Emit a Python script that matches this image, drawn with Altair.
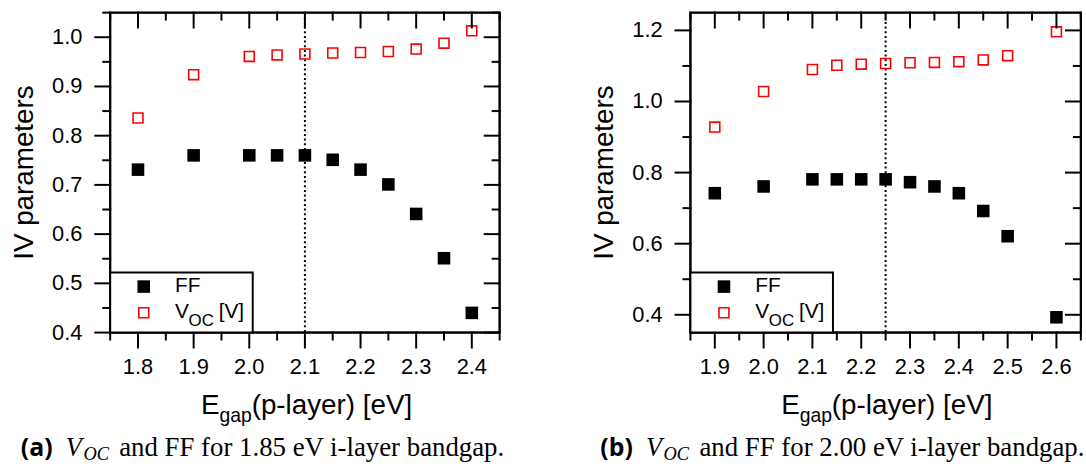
import altair as alt
import pandas as pd

# ---------------- data ----------------
# Panel (a): 1.85 eV i-layer
e_a = [1.8, 1.9, 2.0, 2.05, 2.1, 2.15, 2.2, 2.25, 2.3, 2.35, 2.4]
ff_a = [0.731, 0.760, 0.760, 0.760, 0.760, 0.751, 0.731, 0.701, 0.641, 0.551, 0.440]
voc_a = [0.836, 0.924, 0.961, 0.964, 0.966, 0.968, 0.969, 0.971, 0.976, 0.988, 1.013]

# Panel (b): 2.00 eV i-layer
e_b = [1.9, 2.0, 2.1, 2.15, 2.2, 2.25, 2.3, 2.35, 2.4, 2.45, 2.5, 2.6]
ff_b = [0.742, 0.761, 0.781, 0.781, 0.781, 0.781, 0.773, 0.761, 0.742, 0.692, 0.621, 0.393]
voc_b = [0.928, 1.028, 1.090, 1.102, 1.105, 1.107, 1.109, 1.110, 1.112, 1.117, 1.129, 1.196]

# axes / ticks
xdom_a = [1.75, 2.45]
ydom_a = [0.4, 1.05]
xmaj_a = [1.8, 1.9, 2.0, 2.1, 2.2, 2.3, 2.4]
xmin_a = [1.75, 1.85, 1.95, 2.05, 2.15, 2.25, 2.35, 2.45]
ymaj_a = [0.4, 0.5, 0.6, 0.7, 0.8, 0.9, 1.0]
ymin_a = [0.45, 0.55, 0.65, 0.75, 0.85, 0.95, 1.05]
vline_a = [2.1]

xdom_b = [1.85, 2.65]
ydom_b = [0.35, 1.25]
xmaj_b = [1.9, 2.0, 2.1, 2.2, 2.3, 2.4, 2.5, 2.6]
xmin_b = [1.85, 1.95, 2.05, 2.15, 2.25, 2.35, 2.45, 2.55, 2.65]
ymaj_b = [0.4, 0.6, 0.8, 1.0, 1.2]
ymin_b = [0.5, 0.7, 0.9, 1.1]
vline_b = [2.25]

ytitle = "IV parameters"
xtitle_parts = ["E", "gap", "(p-layer) [eV]"]
legend_ff = "FF"
legend_voc = ["V", "OC", "[V]"]
cap_a = ["(a)", "V", "OC", "and FF for 1.85 eV i-layer bandgap."]
cap_b = ["(b)", "V", "OC", "and FF for 2.00 eV i-layer bandgap."]

SANS = "Liberation Sans"
SERIF = "Liberation Serif"
H = 322.3
MAJ = 16
MIN = 8


def txt(s, x, y, size, font=SANS, align="left", style="normal", weight="normal", angle=0):
    return alt.Chart(pd.DataFrame({"d": [0]})).mark_text(
        text=s, align=align, baseline="alphabetic", font=font, fontSize=size,
        fontStyle=style, fontWeight=weight, color="black", angle=angle
    ).encode(x=alt.value(x), y=alt.value(y))


def panel(E, ff, voc, xdom, ydom, xmaj, xmin, ymaj, ymin, vline, cap, W):
    xs = alt.Scale(domain=xdom, nice=False, zero=False)
    ys = alt.Scale(domain=ydom, nice=False, zero=False)
    df = pd.DataFrame({"E": E, "FF": ff, "VOC": voc})
    dummy = pd.DataFrame({"d": [0]})

    ff_layer = alt.Chart(df).mark_point(
        shape="square", filled=True, color="black", size=160, opacity=1
    ).encode(
        x=alt.X("E:Q", scale=xs, axis=None),
        y=alt.Y("FF:Q", scale=ys, axis=None),
    )
    voc_layer = alt.Chart(df).mark_point(
        shape="square", filled=False, color="red", strokeWidth=1.6, size=100, opacity=1
    ).encode(
        x=alt.X("E:Q", scale=xs, axis=None),
        y=alt.Y("VOC:Q", scale=ys, axis=None),
    )
    vl = alt.Chart(pd.DataFrame({"v": vline})).mark_rule(
        color="black", strokeWidth=2, strokeDash=[2, 2.7]
    ).encode(x=alt.X("v:Q", scale=xs, axis=None))

    # frame edges, drawn as short segments between successive tick positions
    xk = sorted(set(round(v, 4) for v in xmaj + xmin + xdom))
    yk = sorted(set(round(v, 4) for v in ymaj + ymin + ydom))
    hseg = pd.DataFrame([{"a": xk[i], "b": xk[i + 1], "y": yy}
                         for yy in ydom for i in range(len(xk) - 1)])
    vseg = pd.DataFrame([{"a": yk[i], "b": yk[i + 1], "x": xx}
                         for xx in xdom for i in range(len(yk) - 1)])
    fh = alt.Chart(hseg).mark_rule(color="black", strokeWidth=2, strokeCap="square").encode(
        x=alt.X("a:Q", scale=xs, axis=None), x2="b:Q", y=alt.Y("y:Q", scale=ys, axis=None))
    fv = alt.Chart(vseg).mark_rule(color="black", strokeWidth=2, strokeCap="square").encode(
        y=alt.Y("a:Q", scale=ys, axis=None), y2="b:Q", x=alt.X("x:Q", scale=xs, axis=None))
    # same frame once more with pixel-valued rules
    fr = [
        alt.Chart(dummy).mark_rule(color="black", strokeWidth=2).encode(
            x=alt.value(0), x2=alt.value(W), y=alt.value(0)),
        alt.Chart(dummy).mark_rule(color="black", strokeWidth=2).encode(
            x=alt.value(0), x2=alt.value(W), y=alt.value(H)),
        alt.Chart(dummy).mark_rule(color="black", strokeWidth=2).encode(
            x=alt.value(0), y=alt.value(0), y2=alt.value(H)),
        alt.Chart(dummy).mark_rule(color="black", strokeWidth=2).encode(
            x=alt.value(W), y=alt.value(0), y2=alt.value(H)),
    ]

    def xt(vals, y0, y1):
        return alt.Chart(pd.DataFrame({"t": vals})).mark_rule(color="black", strokeWidth=2).encode(
            x=alt.X("t:Q", scale=xs, axis=None), y=alt.value(y0), y2=alt.value(y1))

    def yt(vals, x0, x1):
        return alt.Chart(pd.DataFrame({"t": vals})).mark_rule(color="black", strokeWidth=2).encode(
            y=alt.Y("t:Q", scale=ys, axis=None), x=alt.value(x0), x2=alt.value(x1))

    ticks = [
        xt(xmaj, H, H + MAJ), xt(xmin, H, H + MIN),
        xt(xmaj, 0, MAJ), xt(xmin, 0, MIN),
        yt(ymaj, -MAJ, 0), yt(ymin, -MIN, 0),
        yt(ymaj, W - MAJ, W), yt(ymin, W - MIN, W),
    ]

    # tick labels from the tick arrays
    xlab = alt.Chart(pd.DataFrame({"t": xmaj})).mark_text(
        align="center", baseline="alphabetic", font=SANS, fontSize=22, color="black"
    ).encode(x=alt.X("t:Q", scale=xs, axis=None), y=alt.value(H + 41.5),
             text=alt.Text("t:Q", format=".1f"))
    ylab = alt.Chart(pd.DataFrame({"t": ymaj})).mark_text(
        align="right", baseline="middle", font=SANS, fontSize=22, color="black"
    ).encode(y=alt.Y("t:Q", scale=ys, axis=None), x=alt.value(-28),
             text=alt.Text("t:Q", format=".1f"))
    ytl = txt(ytitle, -78, H / 2, 28, align="center", angle=270)

    box = alt.Chart(dummy).mark_rect(fill="white", stroke="black", strokeWidth=2).encode(
        x=alt.value(0), x2=alt.value(143.6), y=alt.value(261.7), y2=alt.value(H))
    m1 = alt.Chart(dummy).mark_point(shape="square", filled=True, color="black", size=160, opacity=1).encode(
        x=alt.value(33.8), y=alt.value(276))
    m2 = alt.Chart(dummy).mark_point(shape="square", filled=False, color="red", strokeWidth=1.6,
                                      size=100, opacity=1).encode(x=alt.value(33.8), y=alt.value(302.3))
    legend = [
        box, m1, m2,
        txt(legend_ff, 65.3, 281.7, 21),
        txt(legend_voc[0], 65.3, 307.3, 21),
        txt(legend_voc[1], 79, 316, 17),
        txt(legend_voc[2], 109.3, 307.3, 21),
    ]

    xtitle = [
        txt(xtitle_parts[0], 91.5, 404.5, 28),
        txt(xtitle_parts[1], 110.2, 412, 19.5),
        txt(xtitle_parts[2], 142.5, 404.5, 28),
    ]

    caption = [
        txt(cap[0], -58, 447, 25, font="Open Sans", align="right", weight="bold"),
        txt(cap[1], -44.7, 447, 26.5, font=SERIF, style="italic"),
        txt(cap[2], -27, 451, 18.5, font=SERIF, style="italic"),
        txt(cap[3], 9.1, 447, 27, font=SERIF),
    ]

    return alt.layer(vl, ff_layer, voc_layer, fh, fv, *fr, *ticks, xlab, ylab, ytl,
                     *legend, *xtitle, *caption).properties(width=W, height=H)


pa = panel(e_a, ff_a, voc_a, xdom_a, ydom_a, xmaj_a, xmin_a, ymaj_a, ymin_a, vline_a, cap_a, 392.3)
pb = panel(e_b, ff_b, voc_b, xdom_b, ydom_b, xmaj_b, xmin_b, ymaj_b, ymin_b, vline_b, cap_b, 393.3)

chart = alt.hconcat(pa, pb, spacing=191.5, bounds="flush").properties(
    padding={"left": 10, "top": 9, "right": 0, "bottom": 0}
).configure_view(stroke=None).configure(background="white")

chart.save("out.html", embed_options={"renderer": "svg", "actions": False})
